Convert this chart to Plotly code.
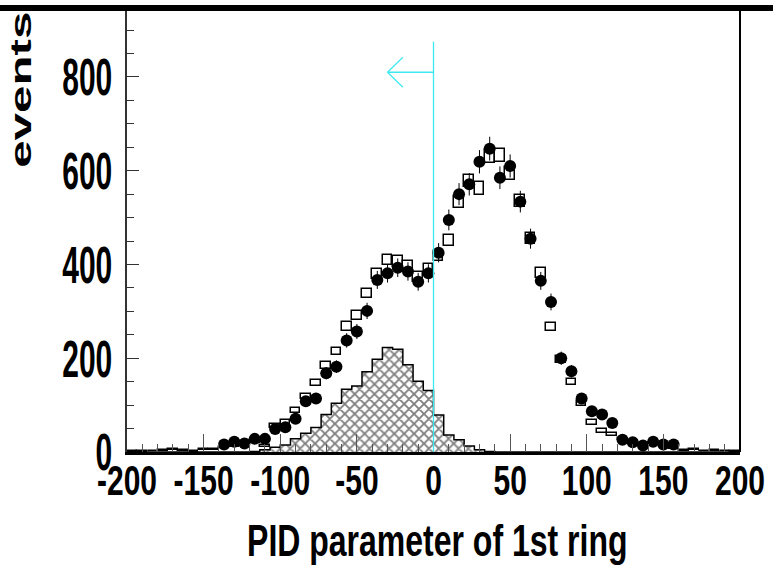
import plotly.graph_objects as go
import numpy as np

# ---- data (60 bins from -200 to 200) ----
X_MIN, X_MAX, N_BINS = -200.0, 200.0, 60

data_counts = [None, None, None, None, None, None, None, None, None, 16,
               22, 18, 28, 28, 49, 53, 71, 108, 114, 168,
               182, 238, 257, 301, 367, 381, 393, 385, 363, 381,
               425, 495, 550, 571, 619, 647, 585, 610, 534, 455,
               365, 320, 200, 172, 114, 87, 80, 62, 26, 21,
               14, 22, 16, 16, None, None, None, None, None, None]

mc_counts = [1, 1, 2, 4, 5, 3, 1, 5, 5, 10,
             12, 15, 22, 12, 56, 63, 88, 118, 147, 184,
             214, 268, 292, 338, 379, 410, 406, 396, 374, 390,
             418, 452, 533, 578, 562, 630, 633, 594, 535, 455,
             382, 267, 198, 150, 104, 63, 45, 38, 28, 21,
             14, 17, 14, 8, 3, 5, 2, 3, 2, 1]

bg_counts = [0, 0, 0, 0, 0, 0, 0, 0, 0, 0,
             0, 0, 1, 5, 10, 15, 28, 40, 52, 80,
             104, 134, 141, 171, 198, 223, 219, 186, 151, 131,
             79, 36, 26, 13, 5, 1, 0, 0, 0, 0,
             0, 0, 0, 0, 0, 0, 0, 0, 0, 0,
             0, 0, 0, 0, 0, 0, 0, 0, 0, 0]

x_tick_vals = [-200, -150, -100, -50, 0, 50, 100, 150, 200]
x_tick_text = ["-200", "-150", "-100", "-50", "0", "50", "100", "150", "200"]
y_tick_vals = [0, 200, 400, 600, 800]
y_tick_text = ["0", "200", "400", "600", "800"]

cut_value = 0
cut_line_top = 875
arrow_y = 810
arrow_len = 30
Y_MAX = 947

# ---- derived ----
binw = (X_MAX - X_MIN) / N_BINS
edges = X_MIN + binw * np.arange(N_BINS + 1)
centers = 0.5 * (edges[:-1] + edges[1:])

data_arr = np.array([np.nan if v is None else v for v in data_counts], dtype=float)
data_err = np.sqrt(data_arr)
mc_arr = np.array(mc_counts, dtype=float)
mc_err = 0.55 * np.sqrt(mc_arr)

FONT = "Liberation Sans, Arial, sans-serif"

fig = go.Figure()

# hatched background histogram (step outline + crosshatch fill)
step_x = list(edges)
step_y = list(bg_counts) + [bg_counts[-1]]
fig.add_trace(go.Scatter(
    x=step_x, y=step_y, mode="lines", line=dict(shape="hv", color="black", width=1.5),
    fill="tozeroy", fillcolor="white",
    fillpattern=dict(shape="x", fgcolor="black", bgcolor="white", size=7, solidity=0.45),
    hoverinfo="skip", showlegend=False))

# MC as error boxes
fig.add_trace(go.Bar(
    x=centers, y=2 * mc_err, base=mc_arr - mc_err, width=binw * 0.95,
    marker=dict(color="white", line=dict(color="black", width=1.5)),
    showlegend=False))

# data points
fig.add_trace(go.Scatter(
    x=centers, y=data_arr, mode="markers",
    marker=dict(symbol="circle", size=12, color="black"),
    error_y=dict(type="data", array=data_err, width=0, thickness=1, color="black"),
    error_x=dict(type="constant", value=binw / 2, width=0, thickness=1, color="black"),
    showlegend=False))

cyan = "#3ee8f0"
shapes = [
    dict(type="line", xref="x", yref="y", x0=cut_value, x1=cut_value, y0=0, y1=cut_line_top,
         line=dict(color=cyan, width=1.3)),
    dict(type="line", xref="x", yref="y", x0=cut_value, x1=cut_value - arrow_len, y0=arrow_y, y1=arrow_y,
         line=dict(color=cyan, width=1.5)),
    dict(type="line", xref="x", yref="y", x0=cut_value - arrow_len, x1=cut_value - arrow_len + 10,
         y0=arrow_y, y1=arrow_y + 32, line=dict(color=cyan, width=1.2)),
    dict(type="line", xref="x", yref="y", x0=cut_value - arrow_len, x1=cut_value - arrow_len + 10,
         y0=arrow_y, y1=arrow_y - 32, line=dict(color=cyan, width=1.2)),
    # frame: right border and thick top line
    dict(type="line", xref="paper", yref="paper", x0=1, x1=1, y0=0, y1=1,
         line=dict(color="black", width=2)),
    dict(type="line", xref="paper", yref="paper", x0=-0.25, x1=1.1, y0=1.0, y1=1.0,
         line=dict(color="black", width=6)),
]

fig.update_layout(
    width=773, height=574,
    margin=dict(l=127, r=30, t=8, b=122),
    paper_bgcolor="white", plot_bgcolor="white",
    barmode="overlay", bargap=0,
    shapes=shapes,
    annotations=[
        dict(text="events", xref="paper", yref="paper", x=-0.172, y=0.815, textangle=-90,
             showarrow=False, xanchor="center", yanchor="middle",
             font=dict(family=FONT, size=29, color="black", weight="bold")),
        dict(text="PID parameter of 1st ring", xref="paper", yref="paper", x=0.506, y=-0.2,
             showarrow=False, xanchor="center", yanchor="middle",
             font=dict(family=FONT, size=32, color="black", weight="bold")),
    ],
)

fig.update_xaxes(
    range=[X_MIN, X_MAX], showgrid=False, zeroline=False,
    showline=True, linecolor="black", linewidth=3,
    tickmode="array", tickvals=x_tick_vals, ticktext=x_tick_text,
    ticks="inside", ticklen=18, tickwidth=1, tickcolor="#555555",
    minor=dict(tickmode="linear", tick0=-200, dtick=10, ticks="inside", ticklen=8,
               tickwidth=1, tickcolor="#555555"),
    tickfont=dict(family=FONT, size=30, color="black", weight="bold"),
    ticklabeloverflow="allow", ticklabelstandoff=0,
)
fig.update_yaxes(
    range=[0, Y_MAX], showgrid=False, zeroline=False,
    showline=True, linecolor="#333333", linewidth=1.5,
    tickmode="array", tickvals=y_tick_vals, ticktext=y_tick_text,
    ticks="inside", ticklen=12, tickwidth=1, tickcolor="#333333",
    minor=dict(tickmode="linear", tick0=0, dtick=50, ticks="inside", ticklen=7,
               tickwidth=1, tickcolor="#333333"),
    tickfont=dict(family=FONT, size=30, color="black", weight="bold"),
    ticklabeloverflow="allow", ticklabelstandoff=7,
)

# ROOT-style fonts are drawn tall and narrow: stretch the real text elements in place.
post_js = """
var gd = document.getElementById('{plot_id}');
function stretchEl(el, sx, sy){
  if (!el || el.getAttribute('data-stretched')) return;
  var bb = el.getBBox();
  var cx = bb.x + bb.width/2, cy = bb.y + bb.height/2;
  var t = el.getAttribute('transform') || '';
  el.setAttribute('transform', t + ' translate(' + cx + ',' + cy + ') scale(' + sx + ',' + sy + ') translate(' + (-cx) + ',' + (-cy) + ')');
  el.setAttribute('data-stretched', '1');
}
gd.querySelectorAll('g.xtick text').forEach(function(el){ stretchEl(el, 1, 1.4); });
gd.querySelectorAll('g.ytick text').forEach(function(el){ stretchEl(el, 1, 1.75); });
var ann = gd.querySelectorAll('g.annotation');
if (ann.length > 0) stretchEl(ann[0].querySelector('text'), 1.7, 1);
if (ann.length > 1) stretchEl(ann[1].querySelector('text'), 1, 1.38);
"""

fig.write_html("out.html", post_script=post_js)
